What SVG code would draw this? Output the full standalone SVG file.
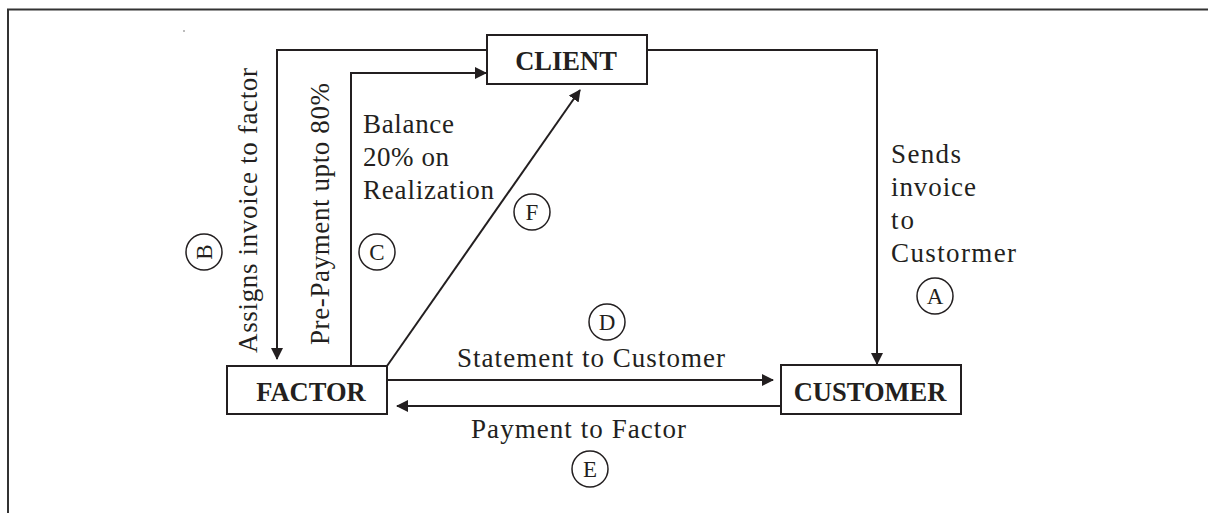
<svg xmlns="http://www.w3.org/2000/svg" width="1208" height="513" viewBox="0 0 1208 513">
<defs>
<marker id="ah" markerUnits="userSpaceOnUse" markerWidth="12" markerHeight="12" refX="11" refY="6" orient="auto">
<path d="M0,0 L12,6 L0,12 z" fill="#231f20"/>
</marker>
</defs>
<style>
.box{fill:#fff;stroke:#231f20;stroke-width:2}
.nt{font-family:"Liberation Serif","Times New Roman",serif;font-weight:bold;font-size:26.5px;fill:#231f20;text-anchor:middle}
.lb{font-family:"Liberation Serif","Times New Roman",serif;font-size:27px;fill:#231f20}
.cl{font-family:"Liberation Serif","Times New Roman",serif;font-size:23px;fill:#231f20;text-anchor:middle}
.ln{fill:none;stroke:#231f20;stroke-width:2}
.circ{fill:none;stroke:#231f20;stroke-width:1.5}
</style>
<rect width="1208" height="513" fill="#fff"/>
<path d="M8,513 V9.5 H1208" fill="none" stroke="#333" stroke-width="2"/>
<circle cx="184" cy="31" r="0.8" fill="#666"/>
<g id="connectors">
<path class="ln" d="M487,50 H277 V359" marker-end="url(#ah)"/>
<path class="ln" d="M351,366 V73 H486" stroke-width="1.4" stroke="#444" marker-end="url(#ah)"/>
<path class="ln" d="M647,50 H877 V364" marker-end="url(#ah)"/>
<path class="ln" d="M387,380 H773" stroke-width="3" marker-end="url(#ah)"/>
<path class="ln" d="M781,406 H397" marker-end="url(#ah)"/>
<path class="ln" d="M387,366 L580,90" stroke-width="1.6" marker-end="url(#ah)"/>
</g>
<g id="client">
<rect class="box" x="487" y="35" width="160" height="49"/>
<text class="nt" x="566" y="70">CLIENT</text>
</g>
<g id="factor">
<rect class="box" x="227" y="366" width="160" height="48"/>
<text class="nt" x="311" y="401">FACTOR</text>
</g>
<g id="customer">
<rect class="box" x="781" y="365" width="180" height="49"/>
<text class="nt" x="870" y="401">CUSTOMER</text>
</g>
<g id="labels">
<text class="lb" transform="translate(257,353) rotate(-90)" x="0" y="0" textLength="285" lengthAdjust="spacing">Assigns invoice to factor</text>
<text class="lb" transform="translate(329,345) rotate(-90)" x="0" y="0" textLength="262" lengthAdjust="spacing">Pre-Payment upto 80%</text>
<text class="lb" x="363" y="133" textLength="91" lengthAdjust="spacing">Balance</text>
<text class="lb" x="363" y="166" textLength="86" lengthAdjust="spacing">20% on</text>
<text class="lb" x="363" y="199" textLength="131" lengthAdjust="spacing">Realization</text>
<text class="lb" x="891" y="163" textLength="70" lengthAdjust="spacing">Sends</text>
<text class="lb" x="891" y="196" textLength="85" lengthAdjust="spacing">invoice</text>
<text class="lb" x="891" y="229" textLength="23" lengthAdjust="spacing">to</text>
<text class="lb" x="891" y="262" textLength="125" lengthAdjust="spacing">Custormer</text>
<text class="lb" x="457" y="367" textLength="268" lengthAdjust="spacing">Statement to Customer</text>
<text class="lb" x="471" y="438" textLength="215" lengthAdjust="spacing">Payment to Factor</text>
</g>
<g id="markers">
<circle class="circ" cx="935" cy="296" r="18"/><text class="cl" x="935" y="304">A</text>
<circle class="circ" cx="204" cy="252" r="18"/><text class="cl" transform="translate(212,252) rotate(-90)" x="0" y="0">B</text>
<circle class="circ" cx="377" cy="252" r="18"/><text class="cl" x="377" y="260">C</text>
<circle class="circ" cx="607" cy="322" r="18"/><text class="cl" x="607" y="330">D</text>
<circle class="circ" cx="590" cy="469" r="18"/><text class="cl" x="590" y="477">E</text>
<circle class="circ" cx="532" cy="212" r="18"/><text class="cl" x="532" y="220">F</text>
</g>
</svg>
